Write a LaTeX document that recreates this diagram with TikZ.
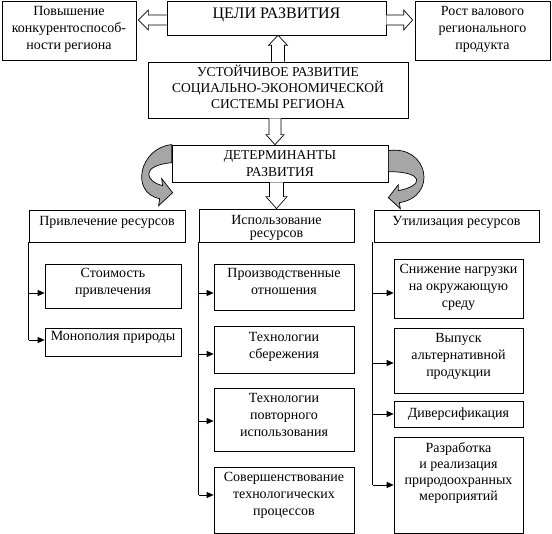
\documentclass[tikz,border=0pt]{standalone}
\usepackage{fontspec}
\setmainfont{Liberation Serif}
\usetikzlibrary{calc,arrows.meta}
\newcommand\padb[1]{\rule[-#1pt]{0pt}{#1pt}}
\newcommand\padt[1]{\rule{0pt}{#1pt}}
\begin{document}
\begin{tikzpicture}[x=1pt,y=-1pt,
  bx/.style={draw, line width=0.7pt, inner sep=1pt, align=center, font=\fontsize{14}{17}\selectfont},
  conn/.style={line width=0.7pt},
  tipa/.style={conn, -{Triangle[length=7pt,width=6pt]}},
  hol/.style={draw, fill=white, line width=0.7pt, line join=miter},
  curv/.style={draw, fill=black!35, line width=0.7pt, line join=miter}]
\useasboundingbox (0,0) rectangle (552,534);

% top row
\node[bx, minimum width=134pt, minimum height=59pt] (pov) at (69,30.5) {Повышение\\конкурентоспособ-\\ности региона\padb{6}};
\node[bx, minimum width=219pt, minimum height=34pt, font=\fontsize{16}{19}\selectfont] (cel) at (276.5,18) {ЦЕЛИ РАЗВИТИЯ\padb{9}};
\node[bx, minimum width=135pt, minimum height=59pt] (rost) at (482.5,30.5) {Рост валового\\регионального\\продукта\padb{5}};
\node[bx, minimum width=260pt, minimum height=56pt, font=\fontsize{13.5}{16}\selectfont] (ust) at (278,90) {УСТОЙЧИВОЕ РАЗВИТИЕ\\СОЦИАЛЬНО-ЭКОНОМИЧЕСКОЙ\\СИСТЕМЫ РЕГИОНА\padb{7}};
\node[bx, minimum width=216pt, minimum height=37pt, font=\fontsize{13.5}{17}\selectfont] (det) at (280,163.5) {ДЕТЕРМИНАНТЫ\\РАЗВИТИЯ};

% second row
\node[bx, minimum width=156pt, minimum height=32pt] (pr) at (107,226) {Привлечение ресурсов\padb{11}};
\node[bx, minimum width=155pt, minimum height=33pt, font=\fontsize{14}{13}\selectfont] (isp) at (276.5,225.5) {\padt{15}Использование\\ресурсов};
\node[bx, minimum width=165pt, minimum height=32pt] (ut) at (456.5,226) {Утилизация ресурсов\padb{11}};

% left column
\node[bx, minimum width=136pt, minimum height=44pt] (c1) at (113,286) {Стоимость\\привлечения\padb{10}};
\node[bx, minimum width=136pt, minimum height=28pt] (c2) at (113,342) {Монополия природы\padb{12}};

% middle column
\node[bx, minimum width=140pt, minimum height=46pt] (m1) at (284,287) {Производственные\\отношения\padb{11}};
\node[bx, minimum width=140pt, minimum height=47pt] (m2) at (284,349.5) {Технологии\\сбережения\padb{8}};
\node[bx, minimum width=140pt, minimum height=63pt] (m3) at (284,419.5) {Технологии\\повторного\\использования\padb{10}};
\node[bx, minimum width=140pt, minimum height=66pt] (m4) at (284,500) {Совершенствование\\технологических\\процессов\padb{13}};

% right column
\node[bx, minimum width=129pt, minimum height=59pt] (r1) at (458.5,288.5) {Снижение нагрузки\\на окружающую\\среду\padb{6}};
\node[bx, minimum width=129pt, minimum height=65pt] (r2) at (458.5,360.5) {Выпуск\\альтернативной\\продукции\padb{12}};
\node[bx, minimum width=129pt, minimum height=26pt] (r3) at (458.5,414) {Диверсификация};
\node[bx, minimum width=129pt, minimum height=96pt, font=\fontsize{14}{16.3}\selectfont] (r4) at (458.5,485) {Разработка\\и реализация\\природоохранных\\мероприятий\padb{27}};

% hollow block arrows
\coordinate (la) at (cel.west);
\coordinate (lb) at (pov.east |- cel.west);
\draw[hol] ($(la)+(0,-3)$) -- ($(lb)+(12,-3)$) -- ($(lb)+(12,-8)$) -- ($(lb)+(2,2)$) -- ($(lb)+(12,12)$) -- ($(lb)+(12,7)$) -- ($(la)+(0,7)$);
\coordinate (ra) at (cel.east);
\coordinate (rb) at (rost.west |- cel.east);
\draw[hol] ($(ra)+(0,-3)$) -- ($(rb)+(-11,-3)$) -- ($(rb)+(-11,-8)$) -- ($(rb)+(-2,2)$) -- ($(rb)+(-11,12)$) -- ($(rb)+(-11,7)$) -- ($(ra)+(0,7)$);
\coordinate (ua) at (ust.north);
\coordinate (ub) at (cel.south -| ust.north);
\draw[hol] ($(ua)+(-6.5,0)$) -- ($(ub)+(-6.5,10)$) -- ($(ub)+(-9.5,10)$) -- (ub) -- ($(ub)+(9.5,10)$) -- ($(ub)+(6.5,10)$) -- ($(ua)+(6.5,0)$);
\coordinate (da) at ($(ust.south)+(-3,0)$);
\coordinate (db) at (det.north -| da);
\draw[hol] ($(da)+(-6,0)$) -- ($(db)+(-6,-10)$) -- ($(db)+(-9,-10)$) -- (db) -- ($(db)+(9,-10)$) -- ($(db)+(6,-10)$) -- ($(da)+(6,0)$);
\coordinate (ea) at (det.south -| isp.north);
\coordinate (eb) at (isp.north);
\draw[hol] ($(ea)+(-7,0)$) -- ($(eb)+(-7,-12)$) -- ($(eb)+(-10.5,-12)$) -- (eb) -- ($(eb)+(10.5,-12)$) -- ($(eb)+(7,-12)$) -- ($(ea)+(7,0)$);

% curved grey arrows
\coordinate (dl) at (det.north west);
\draw[curv] (dl) .. controls ($(dl)+(-32,3)$) and ($(dl)+(-42,48)$) .. ($(dl)+(-12,54)$) -- ($(dl)+(-13,61)$) -- ($(dl)+(1,48)$) -- ($(dl)+(-10,34)$) -- ($(dl)+(-9,41)$) .. controls ($(dl)+(-26,37)$) and ($(dl)+(-32,21)$) .. ($(dl)+(0,18)$) -- cycle;
\coordinate (dr) at (det.north east);
\draw[curv] ($(dr)+(0,6)$) .. controls ($(dr)+(40,0)$) and ($(dr)+(50,52)$) .. ($(dr)+(11,58)$) -- ($(dr)+(12,64)$) -- ($(dr)+(0,53)$) -- ($(dr)+(10,40)$) -- ($(dr)+(10,46)$) .. controls ($(dr)+(36,41)$) and ($(dr)+(36,27)$) .. ($(dr)+(0,27)$) -- cycle;

% left column connectors
\coordinate (c1a) at ($(c1.west)+(0,7)$);
\coordinate (c2a) at ($(c2.west)+(0,-2)$);
\draw[conn] (pr.south west) -- (pr.south west |- c2a);
\draw[tipa] (pr.south west |- c1a) -- (c1a);
\draw[tipa] (pr.south west |- c2a) -- (c2a);

% middle column connectors
\coordinate (m1a) at ($(m1.west)+(0,6)$);
\coordinate (m2a) at ($(m2.west)+(0,4.5)$);
\coordinate (m3a) at ($(m3.west)+(0,1.5)$);
\coordinate (m4a) at ($(m4.west)+(0,-5)$);
\draw[conn] (isp.south west) -- (isp.south west |- m4a);
\draw[tipa] (isp.south west |- m1a) -- (m1a);
\draw[tipa] (isp.south west |- m2a) -- (m2a);
\draw[tipa] (isp.south west |- m3a) -- (m3a);
\draw[tipa] (isp.south west |- m4a) -- (m4a);

% right column connectors
\coordinate (r1a) at ($(r1.west)+(0,4.5)$);
\coordinate (r2a) at ($(r2.west)+(0,2.5)$);
\coordinate (r3a) at (r3.west);
\coordinate (r4a) at (r4.west);
\coordinate (rv) at ($(ut.south west)+(-1,0)$);
\draw[conn] (rv) -- (rv |- r4a);
\draw[tipa] (rv |- r1a) -- (r1a);
\draw[tipa] (rv |- r2a) -- (r2a);
\draw[tipa] (rv |- r3a) -- (r3a);
\draw[tipa] (rv |- r4a) -- (r4a);
\end{tikzpicture}
\end{document}
